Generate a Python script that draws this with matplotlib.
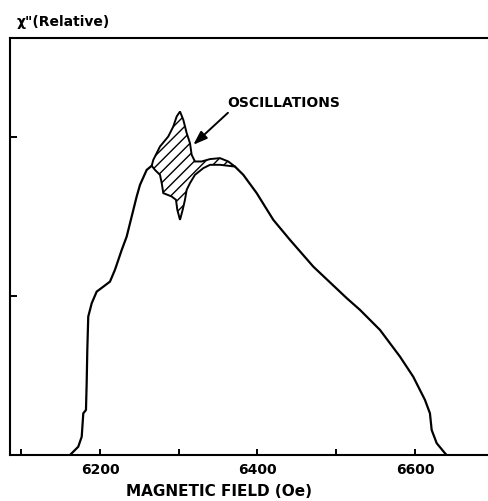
import numpy as np
import matplotlib
matplotlib.use("Agg")
import matplotlib.pyplot as plt

# main absorption curve, left branch (field in Oe, chi'' relative)
field_left = [6161.9, 6172.4, 6176.8, 6178.8, 6182.2, 6183.1, 6183.9, 6185.1,
              6189.5, 6195.8, 6204.2, 6212.7, 6219.0, 6227.6, 6233.9, 6246.6,
              6250.8, 6259.3, 6265.7]
chi_left = [0.0, 0.052, 0.115, 0.262, 0.283, 0.453, 0.660, 0.870,
            0.954, 1.027, 1.058, 1.090, 1.164, 1.289, 1.373, 1.625,
            1.698, 1.792, 1.818]

# right branch after the oscillation region
field_right = [6371.4, 6382.0, 6399.0, 6420.1, 6441.3, 6470.9, 6513.3, 6530.2,
               6555.6, 6581.0, 6597.8, 6612.7, 6619.0, 6621.2, 6627.6, 6638.1,
               6640.2]
chi_right = [1.813, 1.761, 1.646, 1.478, 1.352, 1.184, 0.986, 0.912,
             0.786, 0.618, 0.492, 0.346, 0.262, 0.157, 0.074, 0.011,
             0.0]

# outline of the hatched oscillation region
field_osc = [6265.7, 6267.7, 6276.2, 6286.7, 6293.1, 6297.4, 6301.6, 6305.8,
             6310.1, 6314.3, 6316.4, 6320.6, 6329.1, 6339.7, 6352.4, 6362.9,
             6371.4, 6352.4, 6339.7, 6331.2, 6320.6, 6314.3, 6310.1, 6307.9,
             6305.0, 6301.6, 6298.2, 6296.5, 6291.0, 6280.4, 6278.4, 6276.2,
             6269.8, 6265.7]
chi_osc = [1.818, 1.855, 1.939, 2.002, 2.065, 2.128, 2.159, 2.107,
           2.023, 1.960, 1.887, 1.845, 1.845, 1.860, 1.866, 1.845,
           1.813, 1.824, 1.824, 1.803, 1.761, 1.709, 1.667, 1.604,
           1.541, 1.478, 1.541, 1.604, 1.625, 1.646, 1.709, 1.761,
           1.792, 1.818]

x_ticks = [6100, 6200, 6300, 6400, 6500, 6600]
x_labels = ["", "6200", "", "6400", "", "6600"]
y_ticks = [1, 2]

plt.rcParams['hatch.linewidth'] = 1.0
font = dict(family='DejaVu Sans', fontweight='bold')

fig = plt.figure(figsize=(4.89, 5.01), dpi=100)
ax = fig.add_axes([0.0204, 0.0918, 0.9796, 0.832])

ax.plot(field_left, chi_left, color='black', lw=1.6, solid_capstyle='round')
ax.plot(field_right, chi_right, color='black', lw=1.6, solid_capstyle='round')
ax.fill(field_osc, chi_osc, facecolor='none', edgecolor='black', lw=1.4,
        hatch='///')

ax.annotate('', xy=(6318.5, 1.95), xytext=(6362.5, 2.151),
            arrowprops=dict(arrowstyle='-|>,head_length=0.7,head_width=0.25',
                            color='black', lw=1.4,
                            mutation_scale=12, shrinkA=0, shrinkB=0))
ax.text(6361.3, 2.214, 'OSCILLATIONS', fontsize=10, va='center', ha='left',
        **font)

ax.set_xlim(6085.7, 6694)
ax.set_ylim(0, 2.62)
ax.set_xticks(x_ticks)
ax.set_xticklabels(x_labels, fontsize=10, **font)
ax.set_yticks(y_ticks)
ax.set_yticklabels([])
ax.tick_params(direction='in', length=4, width=1.4, pad=6)
ax.tick_params(axis='y', length=5)

for side in ['left', 'top', 'bottom']:
    ax.spines[side].set_linewidth(1.5)
ax.spines['right'].set_visible(False)

ax.set_xlabel('MAGNETIC FIELD (Oe)', fontsize=11, **font)
ax.xaxis.set_label_coords(0.436, -0.07)
fig.text(17 / 489, 1 - 22 / 501, 'χ"(Relative)', fontsize=10, va='center',
         ha='left', **font)

fig.savefig('out.png', dpi=100)
